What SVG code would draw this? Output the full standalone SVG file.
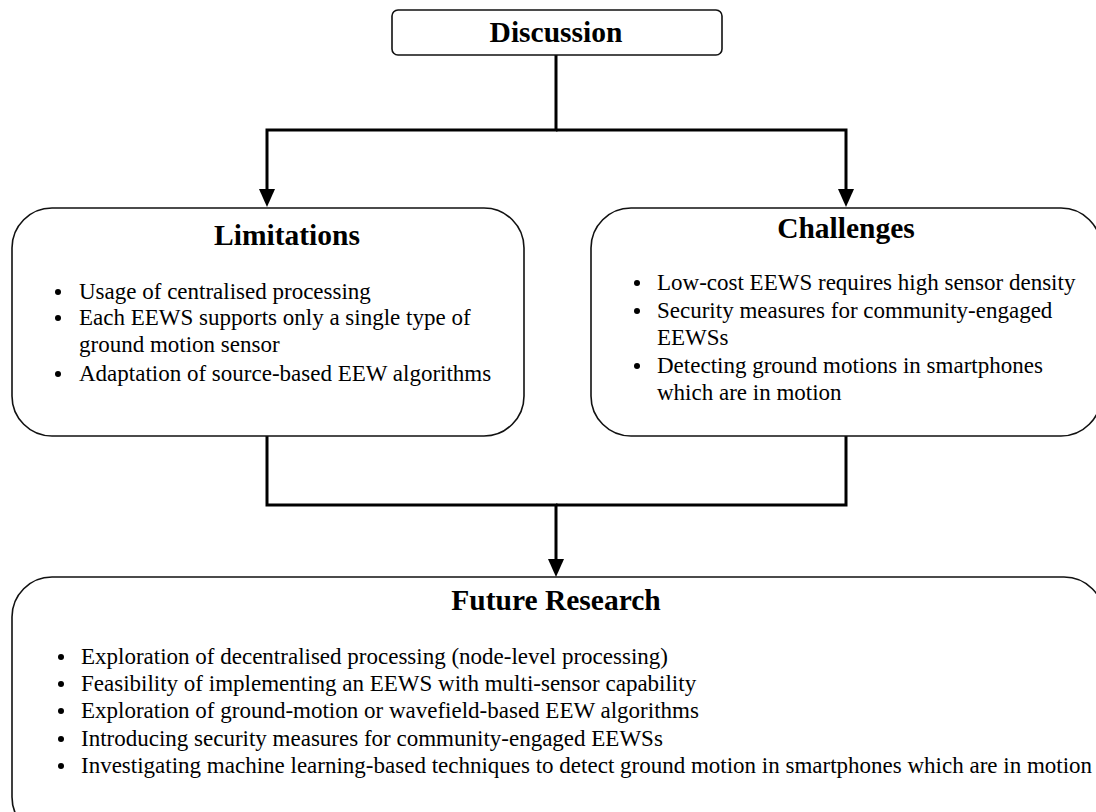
<svg xmlns="http://www.w3.org/2000/svg" width="1096" height="812" viewBox="0 0 1096 812">
  <style>
    .box { fill: #ffffff; stroke: #111111; stroke-width: 1.6; }
    .title { font-family: "Liberation Serif", "Times New Roman", serif; font-weight: bold; font-size: 29.5px; fill: #000000; text-anchor: middle; }
    .item { font-family: "Liberation Serif", "Times New Roman", serif; font-size: 23px; fill: #000000; }
    .dot { fill: #000000; }
    .wire { fill: none; stroke: #000000; stroke-width: 3; }
  </style>
  <defs>
    <marker id="arr" markerUnits="userSpaceOnUse" markerWidth="18" markerHeight="16" viewBox="0 0 18 16" refX="1" refY="8" orient="auto">
      <path d="M0,0 L18,8 L0,16 z" fill="#000000"/>
    </marker>
  </defs>
  <rect width="1096" height="812" fill="#ffffff"/>

  <!-- connectors -->
  <g id="connectors">
    <path class="wire" d="M556,55 V130 H267 V190" marker-end="url(#arr)"/>
    <path class="wire" d="M556,130 H846 V190" marker-end="url(#arr)"/>
    <path class="wire" d="M267,436 V505 H556 V560" marker-end="url(#arr)"/>
    <path class="wire" d="M846,436 V505 H556"/>
  </g>

  <g id="discussion">
    <rect class="box" x="392" y="10" width="330" height="45" rx="6"/>
    <text class="title" x="556" y="42">Discussion</text>
  </g>

  <g id="limitations">
    <rect class="box" x="12" y="208" width="512" height="228" rx="40"/>
    <text class="title" x="287" y="245">Limitations</text>
    <circle class="dot" cx="58" cy="292" r="3"/>
    <text class="item" x="79" y="299">Usage of centralised processing</text>
    <circle class="dot" cx="58" cy="318" r="3"/>
    <text class="item" x="79" y="325">Each EEWS supports only a single type of</text>
    <text class="item" x="79" y="352">ground motion sensor</text>
    <circle class="dot" cx="58" cy="374" r="3"/>
    <text class="item" x="79" y="381">Adaptation of source-based EEW algorithms</text>
  </g>

  <g id="challenges">
    <rect class="box" x="591" y="208" width="510" height="228" rx="40"/>
    <text class="title" x="846" y="238">Challenges</text>
    <circle class="dot" cx="637" cy="283" r="3"/>
    <text class="item" x="657" y="290">Low-cost EEWS requires high sensor density</text>
    <circle class="dot" cx="637" cy="311" r="3"/>
    <text class="item" x="657" y="318">Security measures for community-engaged</text>
    <text class="item" x="657" y="345">EEWSs</text>
    <circle class="dot" cx="637" cy="366" r="3"/>
    <text class="item" x="657" y="373">Detecting ground motions in smartphones</text>
    <text class="item" x="657" y="400">which are in motion</text>
  </g>

  <g id="future-research">
    <rect class="box" x="12" y="577" width="1092" height="260" rx="40"/>
    <text class="title" x="556" y="610">Future Research</text>
    <circle class="dot" cx="61" cy="657" r="3"/>
    <text class="item" x="81" y="664">Exploration of decentralised processing (node-level processing)</text>
    <circle class="dot" cx="61" cy="684" r="3"/>
    <text class="item" x="81" y="691">Feasibility of implementing an EEWS with multi-sensor capability</text>
    <circle class="dot" cx="61" cy="711" r="3"/>
    <text class="item" x="81" y="718">Exploration of ground-motion or wavefield-based EEW algorithms</text>
    <circle class="dot" cx="61" cy="739" r="3"/>
    <text class="item" x="81" y="746">Introducing security measures for community-engaged EEWSs</text>
    <circle class="dot" cx="61" cy="766" r="3"/>
    <text class="item" x="81" y="773">Investigating machine learning-based techniques to detect ground motion in smartphones which are in motion</text>
  </g>
</svg>
